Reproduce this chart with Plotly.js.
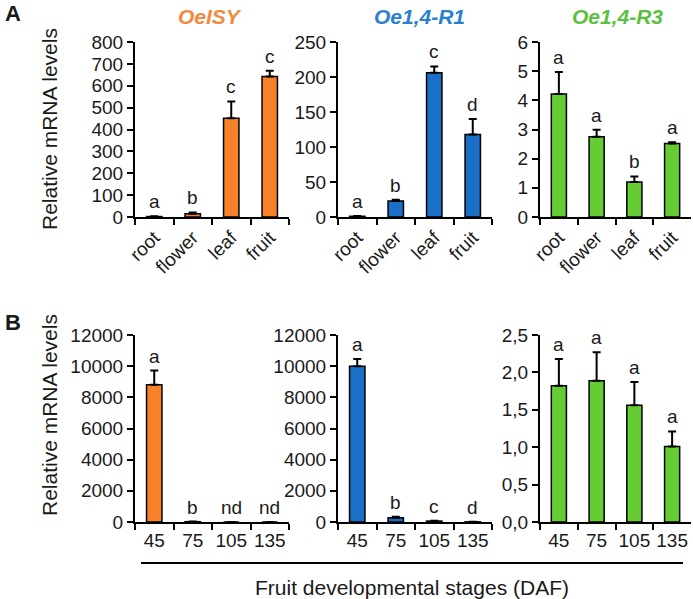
<!DOCTYPE html>
<html>
<head>
<meta charset="utf-8">
<script src="https://cdn.plot.ly/plotly-3.0.1.min.js"></script>
<style>
  html, body { margin: 0; padding: 0; background: #ffffff; }
  #chart { width: 693px; height: 599px; }
</style>
</head>
<body>
<div id="chart"></div>
<script>
(function () {
  "use strict";

  // panel A: tissues
  const TISSUES = ["root", "flower", "leaf", "fruit"];
  const ISY_TISSUE = [2, 15, 452, 642];
  const ISY_TISSUE_ERR = [1, 6, 76, 27];
  const ISY_TISSUE_LETTERS = ["a", "b", "c", "c"];
  const R1_TISSUE = [1, 23, 206, 118];
  const R1_TISSUE_ERR = [0.5, 1.5, 9, 22];
  const R1_TISSUE_LETTERS = ["a", "b", "c", "d"];
  const R3_TISSUE = [4.22, 2.75, 1.2, 2.52];
  const R3_TISSUE_ERR = [0.75, 0.24, 0.19, 0.04];
  const R3_TISSUE_LETTERS = ["a", "a", "b", "a"];

  // panel B: fruit developmental stages (DAF)
  const STAGES = ["45", "75", "105", "135"];
  const ISY_STAGE = [8800, 20, 0, 0];
  const ISY_STAGE_ERR = [920, 10, 0, 0];
  const ISY_STAGE_LETTERS = ["a", "b", "nd", "nd"];
  const R1_STAGE = [10000, 280, 60, 10];
  const R1_STAGE_ERR = [460, 50, 15, 5];
  const R1_STAGE_LETTERS = ["a", "b", "c", "d"];
  const R3_STAGE = [1.82, 1.89, 1.56, 1.01];
  const R3_STAGE_ERR = [0.36, 0.38, 0.31, 0.2];
  const R3_STAGE_LETTERS = ["a", "a", "a", "a"];

  const GENES = ["OeISY", "Oe1,4-R1", "Oe1,4-R3"];
  const BAR_COLORS = ["#f7822a", "#1a6fc7", "#66cc33"];
  const TITLE_COLORS = ["#f08a3c", "#2a7fd0", "#5cc040"];
  const FONT = "Liberation Sans, Arial, sans-serif";
  const INK = "#1a1a1a";

  const W = 693;
  const H = 599;
  const COLS = [[135, 289], [338, 492], [540, 691]];
  const ROWS = [[42, 217], [335, 522]];
  const TITLE_X = [210, 419, 617];

  const panels = [
    { row: 0, col: 0, x: TISSUES, y: ISY_TISSUE, err: ISY_TISSUE_ERR, letters: ISY_TISSUE_LETTERS, range: [0, 800], dtick: 100, fmt: "d" },
    { row: 0, col: 1, x: TISSUES, y: R1_TISSUE, err: R1_TISSUE_ERR, letters: R1_TISSUE_LETTERS, range: [0, 250], dtick: 50, fmt: "d" },
    { row: 0, col: 2, x: TISSUES, y: R3_TISSUE, err: R3_TISSUE_ERR, letters: R3_TISSUE_LETTERS, range: [0, 6], dtick: 1, fmt: "d" },
    { row: 1, col: 0, x: STAGES, y: ISY_STAGE, err: ISY_STAGE_ERR, letters: ISY_STAGE_LETTERS, range: [0, 12000], dtick: 2000, fmt: "d" },
    { row: 1, col: 1, x: STAGES, y: R1_STAGE, err: R1_STAGE_ERR, letters: R1_STAGE_LETTERS, range: [0, 12000], dtick: 2000, fmt: "d" },
    { row: 1, col: 2, x: STAGES, y: R3_STAGE, err: R3_STAGE_ERR, letters: R3_STAGE_LETTERS, range: [0, 2.5], dtick: 0.5, fmt: ".1f" }
  ];

  const traces = [];
  const annotations = [];
  const layout = {
    width: W,
    height: H,
    margin: { t: 0, r: 0, b: 0, l: 0 },
    paper_bgcolor: "#ffffff",
    plot_bgcolor: "#ffffff",
    showlegend: false,
    separators: ",.",
    font: { family: FONT, color: INK, size: 19 },
    annotations: annotations,
    shapes: [{
      type: "line", xref: "paper", yref: "paper",
      x0: 141 / W, x1: 683 / W, y0: 1 - 563 / H, y1: 1 - 563 / H,
      line: { color: "#000000", width: 2 }
    }]
  };

  function paperText(xPx, yPx, text, size, color, extra) {
    return Object.assign({
      xref: "paper", yref: "paper",
      x: xPx / W, y: 1 - yPx / H,
      xanchor: "center", yanchor: "middle",
      text: text,
      showarrow: false,
      font: { size: size, family: FONT, color: color }
    }, extra || {});
  }

  panels.forEach((p, i) => {
    const n = i + 1;
    const xa = n === 1 ? "x" : "x" + n;
    const ya = n === 1 ? "y" : "y" + n;
    const xKey = n === 1 ? "xaxis" : "xaxis" + n;
    const yKey = n === 1 ? "yaxis" : "yaxis" + n;
    const cols = COLS[p.col];
    const rows = ROWS[p.row];

    traces.push({
      type: "bar",
      x: p.x,
      y: p.y,
      xaxis: xa,
      yaxis: ya,
      width: 0.4,
      marker: { color: BAR_COLORS[p.col], line: { color: "#000000", width: 1.5 } },
      error_y: {
        type: "data",
        symmetric: false,
        array: p.err,
        arrayminus: p.err.map(() => 0),
        color: "#000000",
        thickness: 2,
        width: 4
      },
      hoverinfo: "skip"
    });

    layout[xKey] = {
      domain: [cols[0] / W, cols[1] / W],
      anchor: ya,
      type: "category",
      range: [-0.5, 3.5],
      showline: true,
      linecolor: "#000000",
      linewidth: 2,
      ticks: "outside",
      tickson: "boundaries",
      ticklen: 6,
      tickwidth: 2,
      tickcolor: "#000000",
      tickangle: p.row === 0 ? -45 : 0,
      tickfont: { size: 19, family: FONT, color: INK },
      showgrid: false,
      zeroline: false,
      fixedrange: true
    };

    layout[yKey] = {
      domain: [1 - rows[1] / H, 1 - rows[0] / H],
      anchor: xa,
      range: p.range,
      dtick: p.dtick,
      tick0: 0,
      tickformat: p.fmt,
      showline: true,
      linecolor: "#000000",
      linewidth: 2,
      ticks: "outside",
      ticklen: 6,
      tickwidth: 2,
      tickcolor: "#000000",
      tickfont: { size: 19, family: FONT, color: INK },
      showgrid: false,
      zeroline: false,
      fixedrange: true
    };

    // letters above each bar; x given as category index
    p.letters.forEach((letter, k) => {
      annotations.push({
        xref: xa, yref: ya,
        x: k, y: p.y[k] + p.err[k],
        text: letter,
        showarrow: false,
        yanchor: "bottom",
        yshift: 2,
        font: { size: 19, family: FONT, color: INK }
      });
    });
  });

  // y titles, one per row
  [129, 415].forEach((yc) => {
    annotations.push(paperText(49, yc, "Relative mRNA levels", 21, INK, { textangle: -90 }));
  });

  GENES.forEach((gene, c) => {
    annotations.push(paperText(TITLE_X[c], 16, "<b><i>" + gene + "</i></b>", 21, TITLE_COLORS[c]));
  });

  annotations.push(
    paperText(3, 13, "<b>A</b>", 22, INK, { xanchor: "left" }),
    paperText(3, 322, "<b>B</b>", 22, INK, { xanchor: "left" }),
    paperText(412, 587, "Fruit developmental stages (DAF)", 21, INK)
  );

  Plotly.newPlot("chart", traces, layout, { displayModeBar: false, staticPlot: true });
})();
</script>
</body>
</html>
